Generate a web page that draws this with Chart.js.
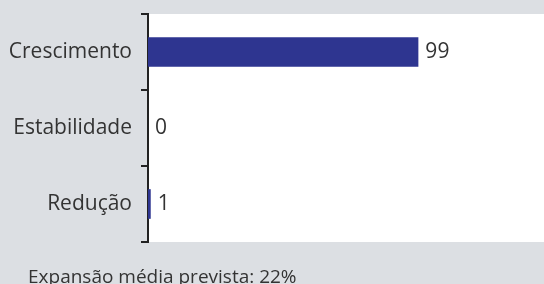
<!DOCTYPE html>
<html>
<head>
<meta charset="utf-8">
<script src="https://cdn.jsdelivr.net/npm/chart.js@4"></script>
<style>
  html, body { margin: 0; padding: 0; background: #dcdfe3; }
  #wrap { position: relative; width: 544px; height: 284px; overflow: hidden; }
  #note { position: absolute; left: 28px; top: 267px; font: 19px/19px "Open Sans", sans-serif; color: #333; white-space: nowrap; }
</style>
</head>
<body>
<div id="wrap">
  <canvas id="c" width="544" height="284"></canvas>
  <div id="note">Expansão média prevista: 22%</div>
</div>
<script>
// categorias e valores
const categories = ['Crescimento', 'Estabilidade', 'Redução'];
const values = [99, 0, 1];
const xMax = 145;

// fundo branco da área do gráfico
const plotBg = {
  id: 'plotBg',
  beforeDraw(chart) {
    const { ctx, chartArea: a } = chart;
    ctx.save();
    ctx.fillStyle = '#ffffff';
    ctx.fillRect(a.left, a.top, a.right - a.left, a.bottom - a.top);
    ctx.restore();
  }
};

// rótulos de valor à direita das barras
const valueLabels = {
  id: 'valueLabels',
  afterDatasetsDraw(chart) {
    const { ctx } = chart;
    const meta = chart.getDatasetMeta(0);
    ctx.save();
    ctx.font = '21px "Open Sans", sans-serif';
    ctx.fillStyle = '#333';
    ctx.textBaseline = 'middle';
    meta.data.forEach((bar, i) => {
      ctx.fillText(String(values[i]), Math.max(bar.x, chart.chartArea.left) + 7, bar.y);
    });
    ctx.restore();
  }
};

new Chart(document.getElementById('c'), {
  type: 'bar',
  data: {
    labels: categories,
    datasets: [{
      data: values,
      backgroundColor: '#2e3590',
      borderWidth: 0,
      barPercentage: 0.39,
      categoryPercentage: 1
    }]
  },
  options: {
    indexAxis: 'y',
    responsive: false,
    animation: false,
    layout: { padding: { top: 14, bottom: 42, right: 0, left: 0 } },
    plugins: { legend: { display: false }, tooltip: { enabled: false } },
    scales: {
      x: { display: false, min: 0, max: xMax },
      y: {
        afterFit(s) { s.width = 148; s.paddingTop = 0; s.paddingBottom = 0; },
        grid: { offset: true, drawOnChartArea: false, tickLength: 7, color: '#222', lineWidth: 2 },
        border: { display: true, color: '#222', width: 2 },
        ticks: { color: '#333', font: { family: 'Open Sans', size: 21 }, padding: 9 }
      }
    }
  },
  plugins: [plotBg, valueLabels]
});
</script>
</body>
</html>
